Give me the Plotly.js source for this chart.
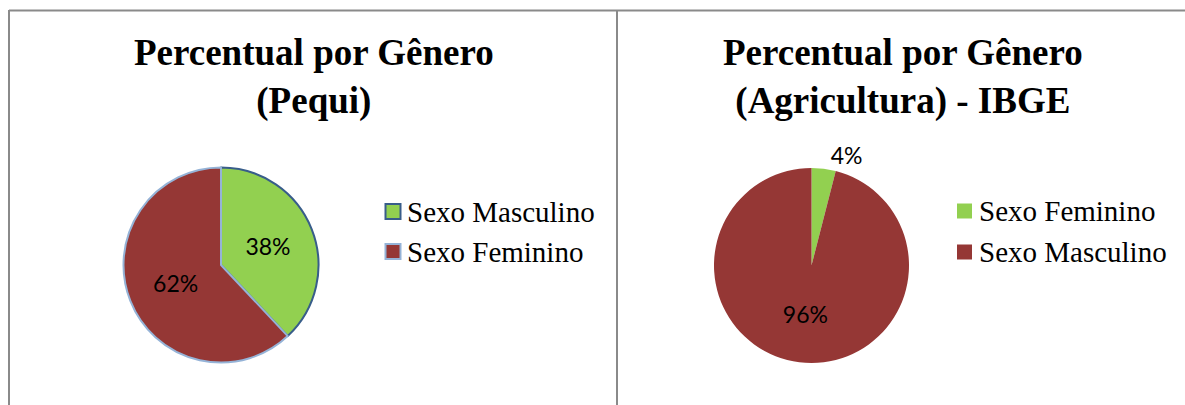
<!DOCTYPE html>
<html>
<head>
<meta charset="utf-8">
<script src="https://cdn.plot.ly/plotly-3.0.1.min.js"></script>
<style>html,body{margin:0;padding:0;background:#fff;}#chart{width:1185px;height:405px;}</style>
</head>
<body>
<div id="chart"></div>
<script>
// ---- Data ----
const titlePequi = "Percentual por Gênero<br>(Pequi)";
const titleIBGE = "Percentual por Gênero<br>(Agricultura) - IBGE";
const labelsPequi = ["Sexo Masculino", "Sexo Feminino"];
const valuesPequi = [38, 62];
const labelsIBGE = ["Sexo Feminino", "Sexo Masculino"];
const valuesIBGE = [4, 96];

// ---- Styles ----
const GREEN = "#92D050", RED = "#953735";
const colorsPequi = [GREEN, RED];
const linesPequi = ["#385D8A", "#95B3D7"];
const colorsIBGE = [GREEN, RED];

const W = 1185, H = 405;
const px = x => x / W;
const py = y => 1 - y / H;

const pieText = {family: "Lato, 'Noto Sans', sans-serif", size: 23, color: "#000"};

const traces = [
  {
    type: "pie", labels: labelsPequi, values: valuesPequi,
    sort: false, direction: "clockwise", rotation: 0,
    marker: {colors: colorsPequi, line: {color: linesPequi, width: 2}},
    textinfo: "percent", textposition: "inside", insidetextorientation: "horizontal",
    textfont: pieText, insidetextfont: pieText,
    domain: {x: [px(123.5), px(318.5)], y: [py(362.5), py(167.5)]},
    showlegend: false, hoverinfo: "label+percent"
  },
  {
    type: "pie", labels: labelsIBGE, values: valuesIBGE,
    sort: false, direction: "clockwise", rotation: 0,
    marker: {colors: colorsIBGE, line: {width: 0}},
    textinfo: "percent", textposition: ["outside", "inside"], insidetextorientation: "horizontal",
    textfont: pieText, insidetextfont: pieText, outsidetextfont: pieText,
    domain: {x: [px(714), px(909)], y: [py(396), py(135)]},
    showlegend: false, hoverinfo: "label+percent"
  }
];

const shapes = [
  {type: "line", xref: "paper", yref: "paper", x0: px(9), x1: 1, y0: py(10.5), y1: py(10.5), line: {color: "#8a8a8a", width: 2}},
  {type: "line", xref: "paper", yref: "paper", x0: px(9), x1: px(9), y0: py(10), y1: 0, line: {color: "#8a8a8a", width: 2}},
  {type: "line", xref: "paper", yref: "paper", x0: px(617), x1: px(617), y0: py(10), y1: 0, line: {color: "#8a8a8a", width: 2}}
];

const titleFont = {family: "'Liberation Serif', 'Times New Roman', serif", size: 37, color: "#000"};
const legFont = {family: "'Liberation Serif', 'Times New Roman', serif", size: 29, color: "#000"};

const annotations = [
  {xref: "paper", yref: "paper", x: px(313.5), y: py(77), xanchor: "center", yanchor: "middle",
   text: "<b>" + titlePequi.replace("<br>", "</b><br><b>") + "</b>", showarrow: false, font: titleFont},
  {xref: "paper", yref: "paper", x: px(903), y: py(77), xanchor: "center", yanchor: "middle",
   text: "<b>" + titleIBGE.replace("<br>", "</b><br><b>") + "</b>", showarrow: false, font: titleFont}
];

// manual legends built from the data arrays
function addLegend(labels, colors, lines, xMark, xText, yRows) {
  labels.forEach((lab, i) => {
    const yc = yRows[i];
    shapes.push({type: "rect", xref: "paper", yref: "paper",
      x0: px(xMark), x1: px(xMark + 15), y0: py(yc + 7.5), y1: py(yc - 7.5),
      fillcolor: colors[i], line: lines ? {color: lines[i], width: 2} : {width: 0}});
    annotations.push({xref: "paper", yref: "paper", x: px(xText), y: py(yc), xanchor: "left", yanchor: "middle",
      text: lab, showarrow: false, font: legFont});
  });
}
addLegend(labelsPequi, colorsPequi, linesPequi, 385.5, 405, [211.5, 251.5]);
addLegend(labelsIBGE, colorsIBGE, null, 957, 977, [211, 252]);

const layout = {
  width: W, height: H,
  margin: {l: 0, r: 0, t: 0, b: 0},
  paper_bgcolor: "#fff", plot_bgcolor: "#fff",
  uniformtext: {mode: "show", minsize: 23},
  shapes: shapes, annotations: annotations,
  showlegend: false
};

Plotly.newPlot("chart", traces, layout, {displayModeBar: false, staticPlot: true});
</script>
</body>
</html>
